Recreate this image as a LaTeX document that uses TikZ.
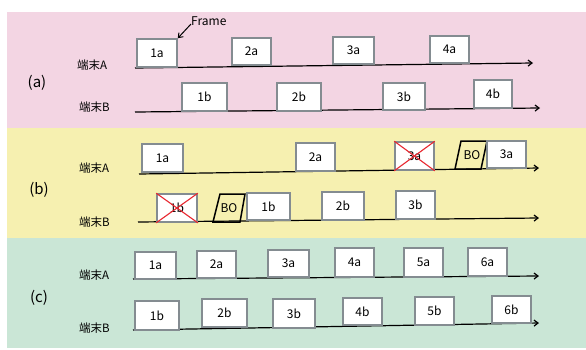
\documentclass[tikz,border=0pt]{standalone}
\usepackage{fontspec}
\setmainfont{Noto Sans CJK JP}
\newfontfamily\jpfont{Noto Sans CJK JP}
\usetikzlibrary{fit,arrows.meta}
\definecolor{bandpink}{RGB}{243,213,227}
\definecolor{bandyellow}{RGB}{246,240,176}
\definecolor{bandgreen}{RGB}{202,230,214}
\definecolor{boxgray}{RGB}{132,140,145}
\definecolor{xred}{RGB}{232,40,48}
\tikzset{
  fbox/.style={draw=boxgray, line width=1.6pt, fill=white, inner sep=0pt},
  axis/.style={line width=1.2pt, -{Straight Barb[length=4pt,width=6pt]}},
  term/.style={font=\jpfont\fontsize{11.5}{12}\selectfont, anchor=west, inner sep=0pt},
  plabel/.style={font=\jpfont\fontsize{15}{16}\selectfont, inner sep=0pt},
  bo/.style={draw=black, line width=1.5pt},
  botext/.style={font=\fontsize{12}{12}\selectfont, inner sep=0pt},
  cross/.style={draw=xred, line width=1.1pt}
}
\newcommand{\fr}[6]{\node[fbox, fit={(#2,#3) (#4,#5)}, label={[font=\fontsize{12}{12}\selectfont]center:#6}] (#1) {};}
\begin{document}
\begin{tikzpicture}[x=1pt,y=-1pt]
\useasboundingbox (0,0) rectangle (586,349);
\fill[white] (0,0) rectangle (586,349);
\fill[bandpink] (7,12) rectangle (586,128);
\fill[bandyellow] (7,128) rectangle (586,238);
\fill[bandgreen] (7,238) rectangle (586,348);

% ---------- (a)
\node[plabel] (la) at (37,83) {(a)};
\node[term] (aA) at (77,65) {端末A};
\node[term] (aB) at (79,107) {端末B};
\coordinate (aAs) at (135,68); \coordinate (aAe) at (533,63);
\coordinate (aBs) at (135,112); \coordinate (aBe) at (540,108);
\draw[axis] (aAs) -- (aAe);
\draw[axis] (aBs) -- (aBe);
\fr{a1a}{137}{39}{177}{67}{1a}
\fr{a2a}{232}{38}{271}{65}{2a}
\fr{a3a}{333}{37}{374}{64}{3a}
\fr{a4a}{430}{36}{469}{63}{4a}
\fr{a1b}{182}{83}{227}{111}{1b}
\fr{a2b}{277}{83}{321}{111}{2b}
\fr{a3b}{383}{83}{425}{110}{3b}
\fr{a4b}{474}{80}{512}{108}{4b}
\node[font=\fontsize{12}{12}\selectfont, inner sep=0pt, anchor=west] (frame) at (191,21) {Frame};
\coordinate (frs) at (191,24);
\draw[line width=1pt, -{Straight Barb[length=4pt,width=6pt]}] (frs) -- (a1a.north east);

% ---------- (b)
\node[plabel] (lb) at (39,190) {(b)};
\node[term] (bA) at (79,168) {端末A};
\node[term] (bB) at (79,222) {端末B};
\coordinate (bAs) at (139,174); \coordinate (bAe) at (539,168);
\coordinate (bBs) at (138,222); \coordinate (bBe) at (539,218);
\draw[axis] (bAs) -- (bAe);
\draw[axis] (bBs) -- (bBe);
\fr{b1a}{142}{144}{183}{172}{1a}
\fr{b2a}{296}{143}{335}{171}{2a}
\fr{b3ax}{395}{142}{434}{170}{3a}
\draw[cross] (b3ax.north west) -- (b3ax.south east);
\draw[cross] (b3ax.south west) -- (b3ax.north east);
\draw[bo] (455,169) -- (461,141) -- (487,141) -- (481,169) -- cycle;
\node[botext] (bo1) at (472,155) {BO};
\fr{b3a}{487}{141}{526}{168}{3a}
\fr{b1bx}{157}{194}{197}{222}{1b}
\draw[cross] (b1bx.north west) -- (b1bx.south east);
\draw[cross] (b1bx.south west) -- (b1bx.north east);
\draw[bo] (213,222) -- (220,194) -- (245,194) -- (240,222) -- cycle;
\node[botext] (bo2) at (229,208) {BO};
\fr{b1b}{247}{193}{290}{220}{1b}
\fr{b2b}{322}{192}{364}{220}{2b}
\fr{b3b}{396}{191}{435}{219}{3b}

% ---------- (c)
\node[plabel] (lc) at (39,298) {(c)};
\node[term] (cA) at (79,275) {端末A};
\node[term] (cB) at (79,328) {端末B};
\coordinate (cAs) at (133,279); \coordinate (cAe) at (539,276);
\coordinate (cBs) at (133,330); \coordinate (cBe) at (539,323);
\draw[axis] (cAs) -- (cAe);
\draw[axis] (cBs) -- (cBe);
\fr{c1a}{135}{252}{176}{279}{1a}
\fr{c2a}{197}{251}{236}{278}{2a}
\fr{c3a}{268}{250}{309}{277}{3a}
\fr{c4a}{335}{248}{374}{277}{4a}
\fr{c5a}{404}{248}{443}{277}{5a}
\fr{c6a}{468}{248}{507}{276}{6a}
\fr{c1b}{135}{301}{179}{330}{1b}
\fr{c2b}{202}{299}{247}{327}{2b}
\fr{c3b}{273}{299}{315}{328}{3b}
\fr{c4b}{343}{298}{382}{325}{4b}
\fr{c5b}{415}{297}{454}{325}{5b}
\fr{c6b}{492}{296}{531}{323}{6b}
\end{tikzpicture}
\end{document}
